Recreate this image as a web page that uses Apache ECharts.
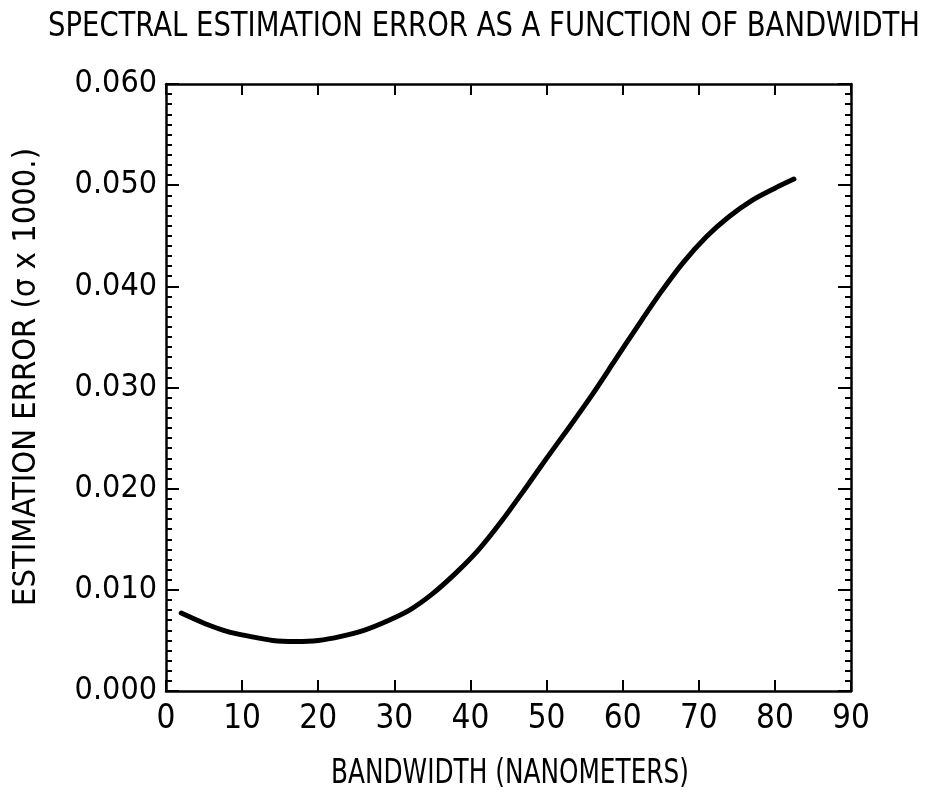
<!DOCTYPE html>
<html>
<head>
<meta charset="utf-8">
<script src="https://cdn.jsdelivr.net/npm/echarts@6/dist/echarts.min.js"></script>
<style>
html,body{margin:0;padding:0;background:#fff;}
#c{width:935px;height:801px;}
</style>
</head>
<body>
<div id="c"></div>
<script>
var titleText = 'SPECTRAL ESTIMATION ERROR AS A FUNCTION OF BANDWIDTH';
var xName = 'BANDWIDTH (NANOMETERS)';
var yName = 'ESTIMATION ERROR (σ x 1000.)';
var bandwidth = [2, 5, 8, 11, 14, 17, 20, 23, 26, 29, 32, 35, 38, 41, 44, 47, 50, 53, 56, 59, 62, 65, 68, 71, 74, 77, 80, 82.5];
var estError = [0.0077, 0.0067, 0.0059, 0.0054, 0.0050, 0.0049, 0.0050, 0.0054, 0.0060, 0.0069, 0.0080, 0.0096, 0.0116, 0.0139, 0.0167, 0.0198, 0.0230, 0.0261, 0.0293, 0.0327, 0.0361, 0.0394, 0.0424, 0.0449, 0.0469, 0.0485, 0.0497, 0.0506];

var FAMILY = '"DejaVu Sans Condensed", "Liberation Sans Narrow", sans-serif';
function fontStr(size) { return size + 'px ' + FAMILY; }
var measureCtx = document.createElement('canvas').getContext('2d');
function fitScale(text, size, target) {
  measureCtx.font = fontStr(size);
  return target / measureCtx.measureText(text).width;
}

var chart = echarts.init(document.getElementById('c'), null, {renderer: 'canvas'});
var data = bandwidth.map(function (x, i) { return [x, estError[i]]; });
var axisLine = {show: true, onZero: false, lineStyle: {color: '#000', width: 2.5}};

chart.setOption({
  backgroundColor: '#fff',
  animation: false,
  graphic: [{
    type: 'text', x: 484, y: 27,
    scaleX: fitScale(titleText, 33, 872),
    style: {text: titleText, font: fontStr(33), fill: '#000', textAlign: 'center', textVerticalAlign: 'middle'}
  }, {
    type: 'text', x: 510, y: 774,
    scaleX: fitScale(xName, 33, 358),
    style: {text: xName, font: fontStr(33), fill: '#000', textAlign: 'center', textVerticalAlign: 'middle'}
  }, {
    type: 'text', x: 27, y: 377, rotation: Math.PI / 2,
    scaleX: fitScale(yName, 32, 458),
    style: {text: yName, font: fontStr(32), fill: '#000', textAlign: 'center', textVerticalAlign: 'middle'}
  }],
  grid: {left: 166, right: 84, top: 84, bottom: 110, containLabel: false},
  xAxis: [{
    type: 'value', position: 'bottom', min: 0, max: 90, interval: 10,
    axisLine: axisLine,
    axisTick: {show: true, inside: true, length: 11, lineStyle: {color: '#000', width: 2}},
    axisLabel: {fontFamily: FAMILY, fontSize: 33, color: '#000', margin: 12},
    splitLine: {show: false}
  }, {
    type: 'value', position: 'top', min: 0, max: 90, interval: 10,
    axisLine: axisLine,
    axisTick: {show: true, inside: true, length: 11, lineStyle: {color: '#000', width: 2}},
    axisLabel: {show: false},
    splitLine: {show: false}
  }],
  yAxis: [{
    type: 'value', position: 'left', min: 0, max: 0.06, interval: 0.01,
    axisLine: axisLine,
    axisTick: {show: true, inside: true, length: 13, lineStyle: {color: '#000', width: 2}},
    minorTick: {show: true, splitNumber: 10, length: 6, lineStyle: {color: '#000', width: 2}},
    axisLabel: {fontFamily: FAMILY, fontSize: 32, color: '#000', margin: 9,
      formatter: function (v) { return v.toFixed(3); }},
    splitLine: {show: false}, minorSplitLine: {show: false}
  }, {
    type: 'value', position: 'right', min: 0, max: 0.06, interval: 0.01,
    axisLine: axisLine,
    axisTick: {show: true, inside: true, length: 13, lineStyle: {color: '#000', width: 2}},
    minorTick: {show: true, splitNumber: 10, length: 6, lineStyle: {color: '#000', width: 2}},
    axisLabel: {show: false},
    splitLine: {show: false}, minorSplitLine: {show: false}
  }],
  series: [{
    type: 'line',
    data: data,
    xAxisIndex: 0, yAxisIndex: 0,
    smooth: 0.3,
    showSymbol: false,
    lineStyle: {color: '#000', width: 5, cap: 'round', join: 'round'}
  }]
});
</script>
</body>
</html>
